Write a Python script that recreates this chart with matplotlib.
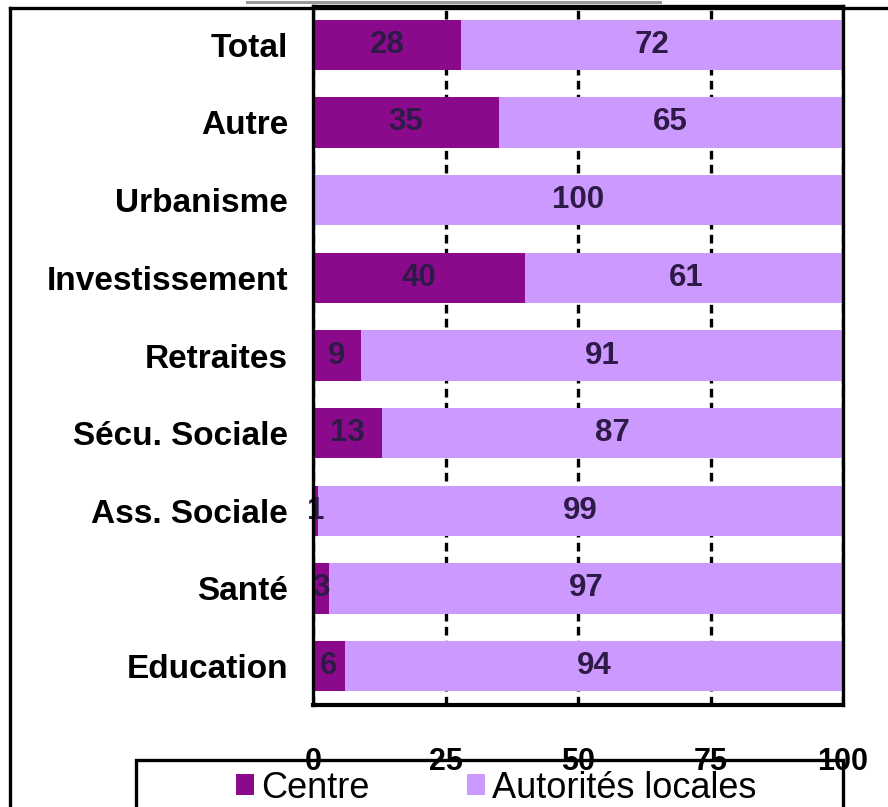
import matplotlib
matplotlib.use("Agg")
import matplotlib.pyplot as plt
from matplotlib.lines import Line2D
from matplotlib.patches import Rectangle

plt.rcParams['font.family'] = ['Liberation Sans', 'DejaVu Sans']

# Categories listed bottom to top
categories = ["Education", "Santé", "Ass. Sociale", "Sécu. Sociale", "Retraites",
              "Investissement", "Urbanisme", "Autre", "Total"]
centre = [6, 3, 1, 13, 9, 40, 0, 35, 28]
autorites = [94, 97, 99, 87, 91, 61, 100, 65, 72]
xticks = [0, 25, 50, 75, 100]
series_names = ["Centre", "Autorités locales"]

c_centre = "#8B0A8B"
c_local = "#CC99FF"
c_value = "#2E1A47"

W, H, DPI = 888, 807, 100
fig = plt.figure(figsize=(W / DPI, H / DPI), dpi=DPI)

def fx(px):
    return px / W

def fy(py):
    return 1 - py / H

ax = fig.add_axes([fx(313), fy(705), fx(843) - fx(313), fy(6) - fy(705)])

ypos = list(range(len(categories)))
bar_h = 0.645
b1 = ax.barh(ypos, centre, height=bar_h, color=c_centre, zorder=2)
b2 = ax.barh(ypos, autorites, left=centre, height=bar_h, color=c_local, zorder=2)

for y, c, a in zip(ypos, centre, autorites):
    if c > 0:
        ax.text(c / 2, y, str(c), ha="center", va="center", fontsize=22.5,
                fontweight="bold", color=c_value, zorder=3)
    ax.text(c + a / 2, y, str(a), ha="center", va="center", fontsize=22.5,
            fontweight="bold", color=c_value, zorder=3)

ax.set_xlim(0, 100)
ax.set_ylim(-0.5, len(categories) - 0.5)
ax.set_yticks(ypos)
ax.set_yticklabels(categories, fontsize=24, fontweight="bold")
ax.set_xticks(xticks)
ax.set_xticklabels([str(t) for t in xticks], fontsize=22, fontweight="bold")
ax.tick_params(axis="y", length=0, pad=18)
ax.tick_params(axis="x", length=0, pad=30)

ax.set_axisbelow(True)
ax.xaxis.grid(True, color="black", linewidth=2.4, linestyle=(0, (2.6, 1.6)), zorder=1)

for side in ["left", "right", "top"]:
    ax.spines[side].set_linewidth(2.4)
    ax.spines[side].set_zorder(4)
ax.spines["bottom"].set_linewidth(3.0)
ax.spines["bottom"].set_zorder(4)

# Outer frame (top and left edges)
fig.add_artist(Line2D([fx(10), 1.0], [fy(8), fy(8)], color="black", linewidth=2.4))
fig.add_artist(Line2D([fx(10), fx(10)], [fy(8), 0.0], color="black", linewidth=2.4))
# Thin grey rule at the very top
fig.add_artist(Line2D([fx(247), fx(660)], [fy(1.5), fy(1.5)], color="#9a9a9a", linewidth=2.2))

# Legend box
fig.add_artist(Rectangle((fx(136), fy(840)), fx(843) - fx(136), fy(760) - fy(840),
                         transform=fig.transFigure, fill=False, edgecolor="black",
                         linewidth=2.4, clip_on=False, zorder=0))
leg = fig.legend([b1, b2], series_names, loc="center", bbox_to_anchor=(fx(496), fy(788)),
                 ncol=2, frameon=False, fontsize=26, handlelength=0.5, handleheight=0.5,
                 handletextpad=0.2, columnspacing=2.7, borderpad=0)

fig.savefig("out.png", dpi=DPI)
